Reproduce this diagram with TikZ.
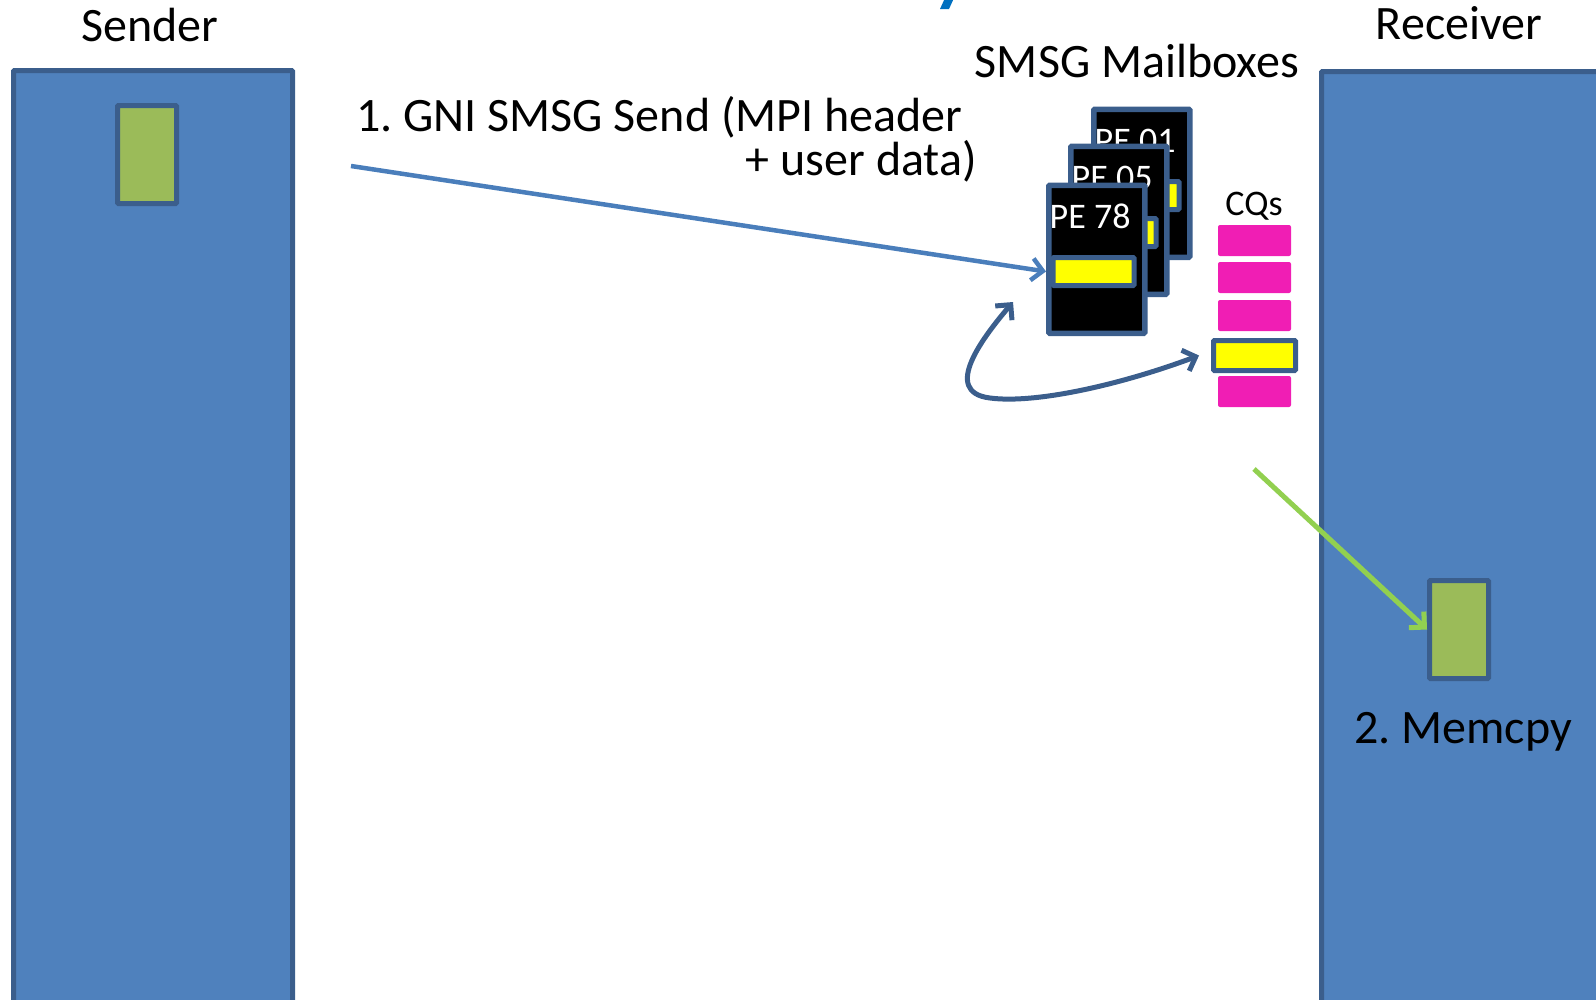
\documentclass[tikz,border=0pt]{standalone}
\usepackage{fontspec}
\setmainfont{Carlito}
\usetikzlibrary{arrows.meta}

\definecolor{boxblue}{HTML}{4F81BD}
\definecolor{edgeblue}{HTML}{3B5E8C}
\definecolor{sendblue}{HTML}{4A7EBB}
\definecolor{datagreen}{HTML}{9BBB59}
\definecolor{arrowgreen}{HTML}{92D050}
\definecolor{cqpink}{HTML}{F01EB4}
\definecolor{msgyellow}{HTML}{FFFF00}
\definecolor{titleblue}{HTML}{0070C0}

\tikzset{
  bigfont/.style={font=\fontsize{48}{57}\selectfont},
  procbox/.style={draw=edgeblue, fill=boxblue, line width=5pt, rounded corners=1pt,
    anchor=north west, inner sep=0pt},
  databox/.style={draw=edgeblue, fill=datagreen, line width=5pt, rounded corners=1pt,
    minimum width=59pt, minimum height=98pt, inner sep=0pt},
  mailbox/.style={draw=edgeblue, fill=black, line width=5.5pt, rounded corners=1pt,
    minimum width=96pt, minimum height=148pt, anchor=north west, inner sep=0pt},
  slot/.style={draw=edgeblue, fill=msgyellow, line width=5pt, rounded corners=1pt,
    minimum width=81pt, minimum height=28pt, inner sep=0pt},
  petext/.style={text=white, font=\fontsize{36}{43}\selectfont, inner sep=0pt, anchor=base west},
  cqbar/.style={fill=cqpink, rounded corners=2pt, minimum width=73pt, minimum height=31pt,
    inner sep=0pt},
  cqslot/.style={draw=edgeblue, fill=msgyellow, line width=5pt, rounded corners=1pt,
    minimum width=82pt, minimum height=30pt, inner sep=0pt},
  sendarrow/.style={draw=sendblue, line width=4.5pt,
    -{Straight Barb[length=11pt, width=22pt, line width=4.5pt]}},
  loopedarrow/.style={draw=edgeblue, line width=5pt,
    {Straight Barb[length=11pt, width=22pt, line width=5pt]}-{Straight Barb[length=11pt, width=22pt, line width=5pt]}},
  copyarrow/.style={draw=arrowgreen, line width=5pt,
    -{Straight Barb[length=11pt, width=22pt, line width=5pt]}},
}

\begin{document}
\frenchspacing
\begin{tikzpicture}[x=1pt, y=-1pt]
\useasboundingbox (0,0) rectangle (1596,999);

% fragment of the slide title at the top edge
\fill[titleblue] (945,-2) -- (954,-2) -- (949,9) -- (940,9) -- cycle;

% sender and receiver processes
\node[procbox, minimum width=279pt, minimum height=960pt] (sender) at (11,68) {};
\node[procbox, minimum width=300pt, minimum height=960pt] (receiver) at (1319,69) {};
\node[bigfont, anchor=base] (sendlabel) at (150,41) {Sender};
\node[bigfont, anchor=base] (recvlabel) at (1459,39) {Receiver};

% user buffers
\node[databox] (sbuf) at (147,154.5) {};
\node[databox] (rbuf) at (1459,629.5) {};

% mailboxes, back to front
\node[bigfont, anchor=base] (mblabel) at (1137,77) {SMSG Mailboxes};
\foreach \nm/\lab/\px/\py in {pe01/PE 01/1091/106.5, pe05/PE 05/1068/143.5, pe78/PE 78/1046/182.5}{
  \node[mailbox] (\nm) at (\px,\py) {};
  \node[petext] (\nm-text) at ([shift={(3.5,45.5)}]\nm.north west) {\lab};
  \node[slot] (\nm-slot) at ([shift={(47.5,89)}]\nm.north west) {};
}

% completion queue
\node[font=\fontsize{36}{43}\selectfont, anchor=base] (cqlabel) at (1254,215) {CQs};
\node[cqbar] (cq1) at (1254.5,240.5) {};
\node[cqbar] (cq2) at (1254.5,277.5) {};
\node[cqbar] (cq3) at (1254.5,315.5) {};
\node[cqslot] (cq4) at (1254.5,355.5) {};
\node[cqbar] (cq5) at (1254.5,391.5) {};

% step labels
\node[bigfont, anchor=base west, inner sep=0pt] (step1a) at (356,131) {1. GNI SMSG Send (MPI header};
\node[bigfont, anchor=base east, inner sep=0pt] (step1b) at (977,175) {+ user data)};
\node[bigfont, anchor=base] (step2) at (1463,743) {2. Memcpy};

% connectors
\coordinate (sendstart) at (351,166);
\draw[sendarrow] (sendstart) -- (pe78.west |- pe78-slot.center);

\coordinate (looptop) at (1013,302);
\draw[loopedarrow] (looptop) .. controls (985,335) and (940,392) .. (990,398)
  .. controls (1035,404) and (1120,385) .. ([xshift=-12pt]cq4.west);

\coordinate (copystart) at (1254,469);
\draw[copyarrow] (copystart) -- (rbuf.west);
\end{tikzpicture}
\end{document}
